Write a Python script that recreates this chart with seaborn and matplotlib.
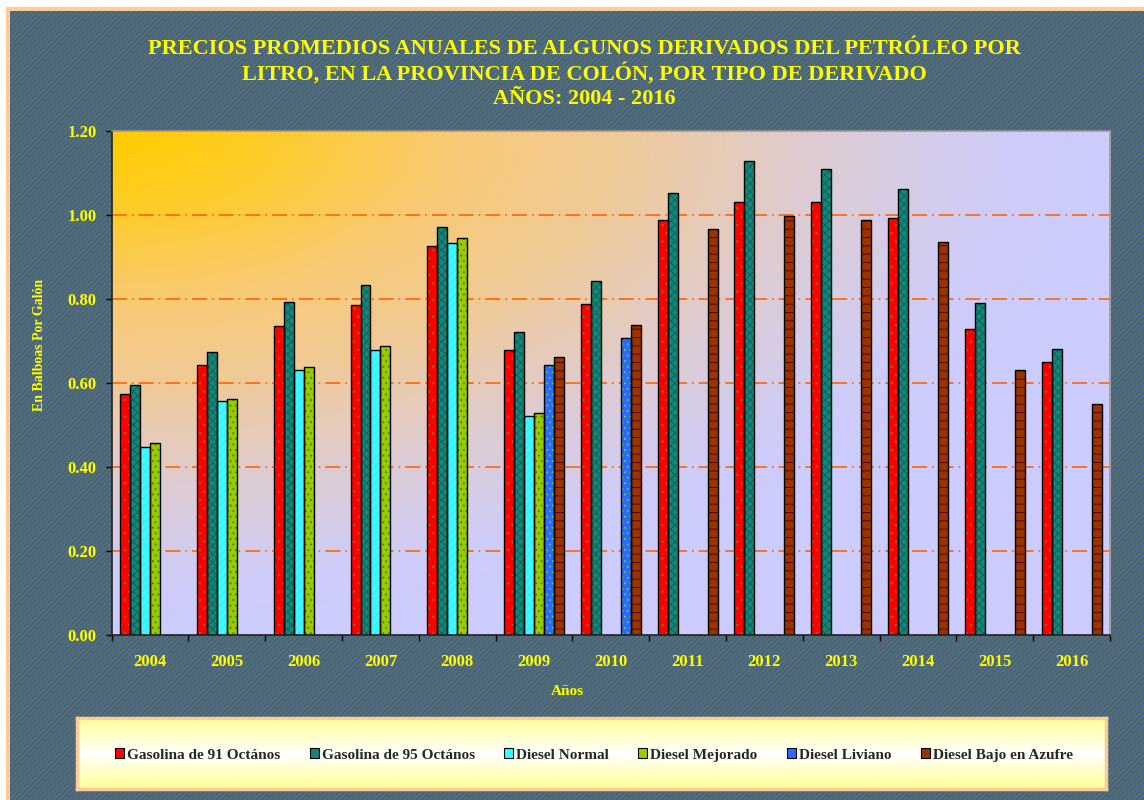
import numpy as np
import pandas as pd
import matplotlib
matplotlib.use("Agg")
import matplotlib.pyplot as plt
import seaborn as sns
from matplotlib.patches import Patch, Rectangle

# ---------------- data ----------------
years = ["2004", "2005", "2006", "2007", "2008", "2009", "2010",
         "2011", "2012", "2013", "2014", "2015", "2016"]
series = ["Gasolina de 91 Octános", "Gasolina de 95 Octános", "Diesel Normal",
          "Diesel Mejorado", "Diesel Liviano", "Diesel Bajo en Azufre"]

gas91 = [0.575, 0.643, 0.736, 0.786, 0.926, 0.678, 0.789, 0.988, 1.030, 1.030, 0.992, 0.728, 0.650]
gas95 = [0.596, 0.674, 0.792, 0.833, 0.972, 0.722, 0.843, 1.053, 1.128, 1.109, 1.062, 0.790, 0.681]
diesel_normal = [0.447, 0.558, 0.630, 0.678, 0.934, 0.522, None, None, None, None, None, None, None]
diesel_mejorado = [0.456, 0.563, 0.637, 0.687, 0.945, 0.529, None, None, None, None, None, None, None]
diesel_liviano = [None, None, None, None, None, 0.643, 0.706, None, None, None, None, None, None]
diesel_azufre = [None, None, None, None, None, 0.662, 0.738, 0.967, 0.998, 0.988, 0.935, 0.630, 0.551]

y_ticks = [0.0, 0.2, 0.4, 0.6, 0.8, 1.0, 1.2]

title_lines = ["PRECIOS PROMEDIOS ANUALES DE ALGUNOS DERIVADOS DEL PETRÓLEO POR",
               "LITRO, EN LA PROVINCIA DE COLÓN, POR TIPO DE DERIVADO",
               "AÑOS: 2004 - 2016"]
y_label = "En Balboas Por Galón"
x_label = "Años"

# ---------------- styling ----------------
colors = ["#FF0000", "#15877A", "#33FFFF", "#99CC00", "#3366FF", "#993300"]
hatches = ["..", "xxxx", "////", "...", "...", "--"]
hatch_colors = ["#A06000", "#0C6558", "#77C8FF", "#4F7F00", "#22EE22", "#5A0000"]

values = [gas91, gas95, diesel_normal, diesel_mejorado, diesel_liviano, diesel_azufre]
rows = []
for s, vals in zip(series, values):
    for yr, v in zip(years, vals):
        if v is not None:
            rows.append({"Año": yr, "Tipo": s, "Precio": v})
df = pd.DataFrame(rows)

sns.set_theme(style="white")
plt.rcParams["font.family"] = ["Liberation Serif", "DejaVu Serif"]
plt.rcParams["hatch.linewidth"] = 0.7

W, H = 1144, 800
fig = plt.figure(figsize=(W / 100, H / 100), dpi=100)
fig.patch.set_facecolor("white")

# background: salmon border + diagonal striped pattern
bg = np.ones((H, W, 3))
yy, xx = np.mgrid[0:H, 0:W]
salmon = np.array([255, 204, 153]) / 255
blue = np.array([94, 98, 150]) / 255
green = np.array([40, 122, 52]) / 255
mask_border = (xx >= 6) & (yy >= 7)
bg[mask_border] = salmon
mask_in = (xx >= 10) & (yy >= 11)
phase = (xx + yy) % 5
bg[mask_in] = blue
bg[mask_in & (phase == 0)] = green
bg[mask_in & (phase == 1)] = (green + blue) / 2
fig.figimage(bg, xo=0, yo=0, origin="upper", zorder=-10)

# plot area
ax = fig.add_axes([111.7 / W, 1 - 635 / H, (1110 - 111.7) / W, (635 - 131) / H])
ax.set_facecolor("none")

# gradient background of plot area
gh, gw = 300, 600
v, u = np.mgrid[0:gh, 0:gw]
t = np.sqrt((u / gw) ** 2 + (v / gh) ** 2)
stops_t = [0.0, 0.15, 0.35, 0.5, 0.7, 0.9, 1.0]
stops_c = np.array([[255, 204, 0], [255, 204, 40], [248, 202, 120], [240, 202, 150],
                    [222, 204, 210], [206, 204, 250], [204, 204, 255]]) / 255
grad = np.zeros((gh, gw, 3))
tc = np.clip(t, 0, 1)
for k in range(3):
    grad[..., k] = np.interp(tc, stops_t, stops_c[:, k])
ax.imshow(grad, extent=[-0.5, len(years) - 0.5, 0, y_ticks[-1]], aspect="auto",
          origin="upper", zorder=0, interpolation="bilinear")

sns.barplot(data=df, x="Año", y="Precio", hue="Tipo", order=years, hue_order=series,
            palette=colors, saturation=1, width=0.78, dodge=True, ax=ax,
            edgecolor="black", linewidth=0.9, legend=False, errorbar=None, zorder=3)

# patterned fills with black outlines
for i, cont in enumerate(ax.containers):
    for p in cont:
        p.set_hatch(hatches[i])
        p.set_edgecolor(hatch_colors[i])
        p.set_linewidth(0)
        ax.add_patch(Rectangle((p.get_x(), p.get_y()), p.get_width(), p.get_height(),
                               fill=False, edgecolor="black", linewidth=1.0, zorder=4))

# grid lines
for yt in y_ticks[1:-1]:
    ax.axhline(yt, color="#FF6600", linewidth=1.2, linestyle=(0, (9, 3, 1, 3)), zorder=1)

ax.set_xlim(-0.5, len(years) - 0.5)
ax.set_ylim(0, y_ticks[-1])
ax.set_yticks(y_ticks)
ax.set_yticklabels([f"{v:.2f}" for v in y_ticks])
ax.set_xticks(range(len(years)))
ax.set_xticklabels(years)
ax.set_xticks(np.arange(-0.5, len(years), 1.0), minor=True)
ax.tick_params(axis="x", which="major", length=0, pad=14)
ax.tick_params(axis="x", which="minor", length=4, width=1, color="black", direction="out", bottom=True)
ax.tick_params(axis="y", which="major", length=4, width=1, color="black", direction="out", left=True, pad=7)
for lab in ax.get_xticklabels() + ax.get_yticklabels():
    lab.set_color("#FFFF00")
    lab.set_fontweight("bold")
    lab.set_fontsize(12)

ax.set_xlabel(x_label, color="#FFFF00", fontweight="bold", fontsize=11)
ax.xaxis.set_label_coords(0.456, -0.1)
ax.set_ylabel(y_label, color="#FFFF00", fontweight="bold", fontsize=10)
ax.yaxis.set_label_coords(-0.066, 0.575)

for side in ["left", "bottom"]:
    ax.spines[side].set_color("#222222")
    ax.spines[side].set_linewidth(1.2)
for side in ["top", "right"]:
    ax.spines[side].set_color("#999999")
    ax.spines[side].set_linewidth(1.2)
for sp in ax.spines.values():
    sp.set_zorder(5)

# title (three centred lines)
for line, ypx in zip(title_lines, [47, 71, 96]):
    fig.text(584.5 / W, 1 - ypx / H, line, ha="center", va="center_baseline", color="#FFFF00",
             fontsize=16, fontweight="bold")

# legend box with gradient
lax = fig.add_axes([77 / W, 1 - 789 / H, (1106 - 77) / W, (789 - 718) / H])
lg = np.linspace(0, 1, 100)
lc = np.abs(lg - 0.5) * 2
lgrad = np.zeros((100, 2, 3))
top_c = np.array([255, 255, 150]) / 255
mid_c = np.array([255, 255, 255]) / 255
for k in range(3):
    lgrad[:, :, k] = (mid_c[k] + (top_c[k] - mid_c[k]) * lc)[:, None]
lax.imshow(lgrad, aspect="auto", extent=[0, 1, 0, 1])
lax.set_xticks([])
lax.set_yticks([])
for sp in lax.spines.values():
    sp.set_color("#FFCC99")
    sp.set_linewidth(2.5)

handles = [Patch(facecolor=c, edgecolor="black", linewidth=0.8) for c in colors]
leg = fig.legend(handles=handles, labels=series, ncol=6, loc="center",
                 bbox_to_anchor=(594 / W, 1 - 755 / H), frameon=False,
                 prop={"family": ["Liberation Serif"], "weight": "bold", "size": 11},
                 handlelength=0.6, handleheight=0.6, handletextpad=0.2, columnspacing=1.9)

fig.savefig("out.png", dpi=100)
